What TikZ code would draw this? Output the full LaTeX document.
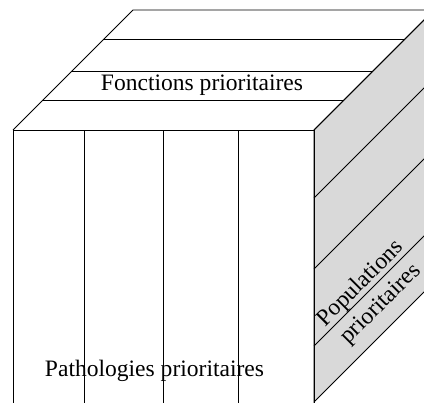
\documentclass[tikz,border=0pt]{standalone}
\usepackage{fontspec}
\setmainfont{Liberation Serif}
\usepackage{tikz}
\tikzstyle{facelabel} = [font=\fontsize{13.4}{16.4}\selectfont, inner sep=0pt]
\tikzstyle{sideface} = [fill=gray!30, draw=black]
\tikzstyle{edge} = [draw=black, line width=0.5pt]

\begin{document}
\begin{tikzpicture}[x=0.02cm, y=0.02cm]
\useasboundingbox (0,0) rectangle (424,403);
\clip (0,0) rectangle (424,403);
% side face
\path[sideface, line width=0.5pt] (314,273) -- (444,403) -- (444,131) -- (314,1) -- cycle;
\foreach \y in {205,134,57}
    \draw[edge] (314,\y) -- ++(130,130);
% top face
\draw[edge] (13,273) -- (133,393) -- (444,393);
\foreach \y in {303,332,364}
    \draw[edge] ({13+\y-273},\y) -- ({314+\y-273},\y);
\draw[edge] (314,273) -- (444,403);
% front face
\draw[edge] (13,0) -- (13,273) -- (314,273) -- (314,0);
\foreach \x in {84,163,238}
    \draw[edge] (\x,0) -- (\x,273);
% labels
\node[facelabel] (fonctions) at (202,317.5) {Fonctions prioritaires};
\node[facelabel] (pathologies) at (154.5,32) {Pathologies prioritaires};
\node[facelabel, rotate=45, align=center] (populations) at (371,109)
    {Populations\\prioritaires};
\end{tikzpicture}
\end{document}
